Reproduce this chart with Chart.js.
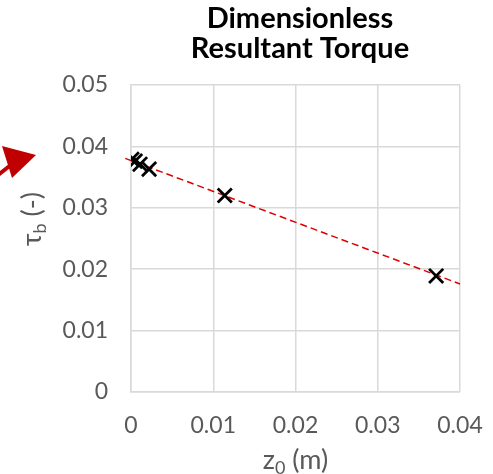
<!DOCTYPE html>
<html>
<head>
<meta charset="utf-8">
<script src="https://cdn.jsdelivr.net/npm/chart.js@4"></script>
<style>
  html, body { margin: 0; padding: 0; background: #fff; }
  #wrap { width: 493px; height: 474px; }
</style>
</head>
<body>
<div id="wrap"><canvas id="myChart"></canvas></div>
<script>
// data
const z0Values = [0.0001, 0.0005, 0.0011, 0.0022, 0.0114, 0.0371]
const tauValues = [0.0379, 0.0376, 0.0371, 0.0363, 0.0320, 0.0189]
const trendX = [-0.0007, 0.04]
const trendY = [0.03805, 0.0176]
const xTicks = [0, 0.01, 0.02, 0.03, 0.04]
const yTicks = [0, 0.01, 0.02, 0.03, 0.04, 0.05]
const titleLines = ['Dimensionless', 'Resultant Torque']

const gray = '#595959'
const gridColor = '#d9d9d9'
const fontFamily = 'Lato, "Open Sans", sans-serif'

const fmt = v => (v === 0 ? '0' : v.toFixed(2))

// text with a subscript part
function drawSub (ctx, base, sub, rest, size) {
  ctx.font = size + 'px ' + fontFamily
  const wb = ctx.measureText(base).width
  ctx.font = Math.round(size * 0.65) + 'px ' + fontFamily
  const ws = ctx.measureText(sub).width
  ctx.font = size + 'px ' + fontFamily
  const wr = ctx.measureText(rest).width
  let x = -(wb + ws + wr) / 2
  ctx.textAlign = 'left'
  ctx.textBaseline = 'middle'
  ctx.fillText(base, x, 0)
  x += wb
  ctx.font = Math.round(size * 0.65) + 'px ' + fontFamily
  ctx.fillText(sub, x, size * 0.3)
  x += ws
  ctx.font = size + 'px ' + fontFamily
  ctx.fillText(rest, x, 0)
}

const decorations = {
  id: 'decorations',
  afterDraw (chart) {
    const { ctx, chartArea } = chart
    const cx = (chartArea.left + chartArea.right) / 2
    ctx.save()
    // title
    ctx.fillStyle = '#000'
    ctx.font = 'bold 29px ' + fontFamily
    ctx.textAlign = 'center'
    ctx.textBaseline = 'alphabetic'
    ctx.fillText(titleLines[0], 300, 28)
    ctx.fillText(titleLines[1], 300, 58)

    // axis titles
    ctx.fillStyle = gray
    ctx.save()
    ctx.translate(cx, 460)
    drawSub(ctx, 'z', '0', ' (m)', 27)
    ctx.restore()

    ctx.save()
    ctx.translate(32, 219)
    ctx.rotate(-Math.PI / 2)
    drawSub(ctx, 'τ', 'b', ' (-)', 27)
    ctx.restore()

    // red annotation arrow
    ctx.fillStyle = '#c00000'
    ctx.strokeStyle = '#c00000'
    ctx.lineWidth = 4
    ctx.beginPath()
    ctx.moveTo(-2, 175)
    ctx.lineTo(12, 164)
    ctx.stroke()
    ctx.beginPath()
    ctx.moveTo(36, 155)
    ctx.lineTo(2, 146)
    ctx.lineTo(12, 178)
    ctx.closePath()
    ctx.fill()
    ctx.restore()
  }
}

const ctx = document.getElementById('myChart')
// eslint-disable-next-line no-unused-vars
const myChart = new Chart(ctx, {
  type: 'scatter',
  data: {
    datasets: [{
      type: 'line',
      data: trendX.map((x, i) => ({ x, y: trendY[i] })),
      borderColor: '#dd0000',
      borderWidth: 1.5,
      borderDash: [7, 4],
      pointRadius: 0,
      fill: false,
      clip: false,
      order: 2
    },
    {
      data: z0Values.map((x, i) => ({ x, y: tauValues[i] })),
      pointStyle: 'crossRot',
      pointRadius: 10,
      borderColor: '#000',
      backgroundColor: '#000',
      pointBorderWidth: 2.8,
      order: 1
    }]
  },
  plugins: [decorations],
  options: {
    responsive: true,
    maintainAspectRatio: false,
    animation: false,
    layout: {
      padding: { top: 85, right: 33, bottom: 0, left: 0 }
    },
    scales: {
      x: {
        type: 'linear',
        min: 0,
        max: 0.04,
        afterBuildTicks: axis => { axis.ticks = xTicks.map(v => ({ value: v })) },
        afterFit: axis => {
          axis.height = 82
          axis.paddingLeft = 0
          axis.paddingRight = 0
        },
        grid: { color: gridColor, lineWidth: 1.5, drawTicks: false },
        border: { color: gridColor, width: 1.5 },
        ticks: {
          padding: 20,
          color: gray,
          font: { family: fontFamily, size: 23 },
          maxRotation: 0,
          callback: v => fmt(v)
        }
      },
      y: {
        type: 'linear',
        min: 0,
        max: 0.05,
        afterBuildTicks: axis => { axis.ticks = yTicks.map(v => ({ value: v })) },
        afterFit: axis => { axis.width = 131 },
        grid: { color: gridColor, lineWidth: 1.5, drawTicks: false },
        border: { color: gridColor, width: 1.5 },
        ticks: {
          padding: 23,
          color: gray,
          font: { family: fontFamily, size: 23 },
          callback: v => fmt(v)
        }
      }
    },
    plugins: {
      legend: { display: false },
      tooltip: { enabled: false }
    }
  }
})
</script>
</body>
</html>
